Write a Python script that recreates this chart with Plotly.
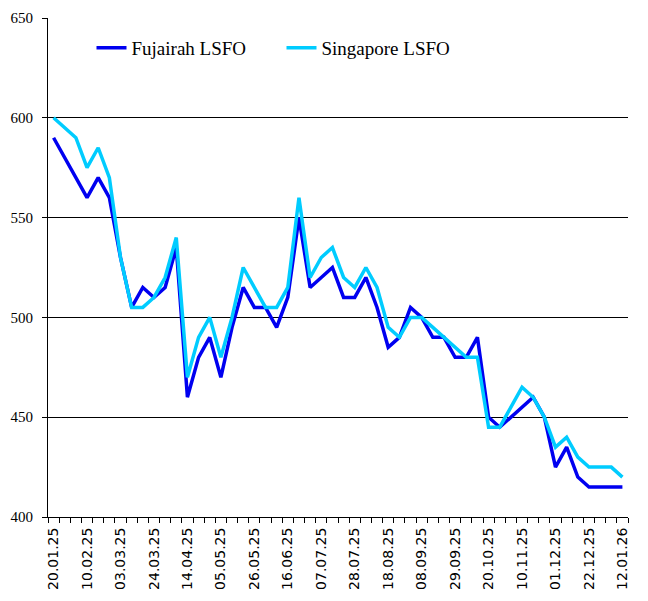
import plotly.graph_objs as go

dates = [
    "20.01.25", "27.01.25", "03.02.25", "10.02.25", "17.02.25", "24.02.25",
    "03.03.25", "10.03.25", "17.03.25", "24.03.25", "31.03.25", "07.04.25",
    "14.04.25", "21.04.25", "28.04.25", "05.05.25", "12.05.25", "19.05.25",
    "26.05.25", "02.06.25", "09.06.25", "16.06.25", "23.06.25", "30.06.25",
    "07.07.25", "14.07.25", "21.07.25", "28.07.25", "04.08.25", "11.08.25",
    "18.08.25", "25.08.25", "01.09.25", "08.09.25", "15.09.25", "22.09.25",
    "29.09.25", "06.10.25", "13.10.25", "20.10.25", "27.10.25", "03.11.25",
    "10.11.25", "17.11.25", "24.11.25", "01.12.25", "08.12.25", "15.12.25",
    "22.12.25", "29.12.25", "05.01.26", "12.01.26",
]

fujairah = [
    590, 580, 570, 560, 570, 560, 530, 505, 515, 510, 515, 535,
    460, 480, 490, 470, 495, 515, 505, 505, 495, 510, 550, 515,
    520, 525, 510, 510, 520, 505, 485, 490, 505, 500, 490, 490,
    480, 480, 490, 450, 445, 450, 455, 460, 450, 425, 435, 420,
    415, 415, 415, 415,
]

singapore = [
    600, 595, 590, 575, 585, 570, 530, 505, 505, 510, 520, 540,
    470, 490, 500, 480, 500, 525, 515, 505, 505, 515, 560, 520,
    530, 535, 520, 515, 525, 515, 495, 490, 500, 500, 495, 490,
    485, 480, 480, 445, 445, 455, 465, 460, 450, 435, 440, 430,
    425, 425, 425, 420,
]

idx = list(range(len(dates)))
label_idx = idx[::3]
serif = "Liberation Serif, Times New Roman, serif"

traces = [
    go.Scatter(x=idx, y=fujairah, name="Fujairah LSFO", mode="lines",
               line=dict(color="#0000F0", width=3.5)),
    go.Scatter(x=idx, y=singapore, name="Singapore LSFO", mode="lines",
               line=dict(color="#00CCFF", width=3.5)),
]

# page body adds an 8px offset, so margins are shifted to compensate
layout = go.Layout(
    width=648, height=601,
    margin=dict(l=40, r=28, t=10, b=92),
    plot_bgcolor="white", paper_bgcolor="white",
    showlegend=True,
    legend=dict(orientation="h", x=0.075, y=0.94, xanchor="left", yanchor="middle",
                font=dict(family=serif, size=19, color="black"),
                bgcolor="rgba(0,0,0,0)", entrywidth=145),
    xaxis=dict(range=[-0.5, len(dates) - 0.5], automargin=False,
               tickvals=label_idx, ticktext=[dates[i] for i in label_idx],
               tickangle=-90, ticks="", showgrid=False, zeroline=False,
               showline=True, linecolor="black", linewidth=1,
               ticklabelstandoff=4,
               tickfont=dict(family="DejaVu Sans", size=14, color="black"),
               minor=dict(ticks="outside", tick0=0.5, dtick=1, ticklen=5,
                          tickcolor="black", tickwidth=1, showgrid=False)),
    yaxis=dict(range=[400, 650], dtick=50, ticks="outside", ticklen=5,
               automargin=False, ticklabelstandoff=6,
               tickcolor="black", showline=True, linecolor="black", linewidth=1,
               showgrid=True, gridcolor="black", gridwidth=1, zeroline=False,
               tickfont=dict(family=serif, size=15, color="black")),
)

fig = go.Figure(data=traces, layout=layout)
fig.write_html("out.html")
